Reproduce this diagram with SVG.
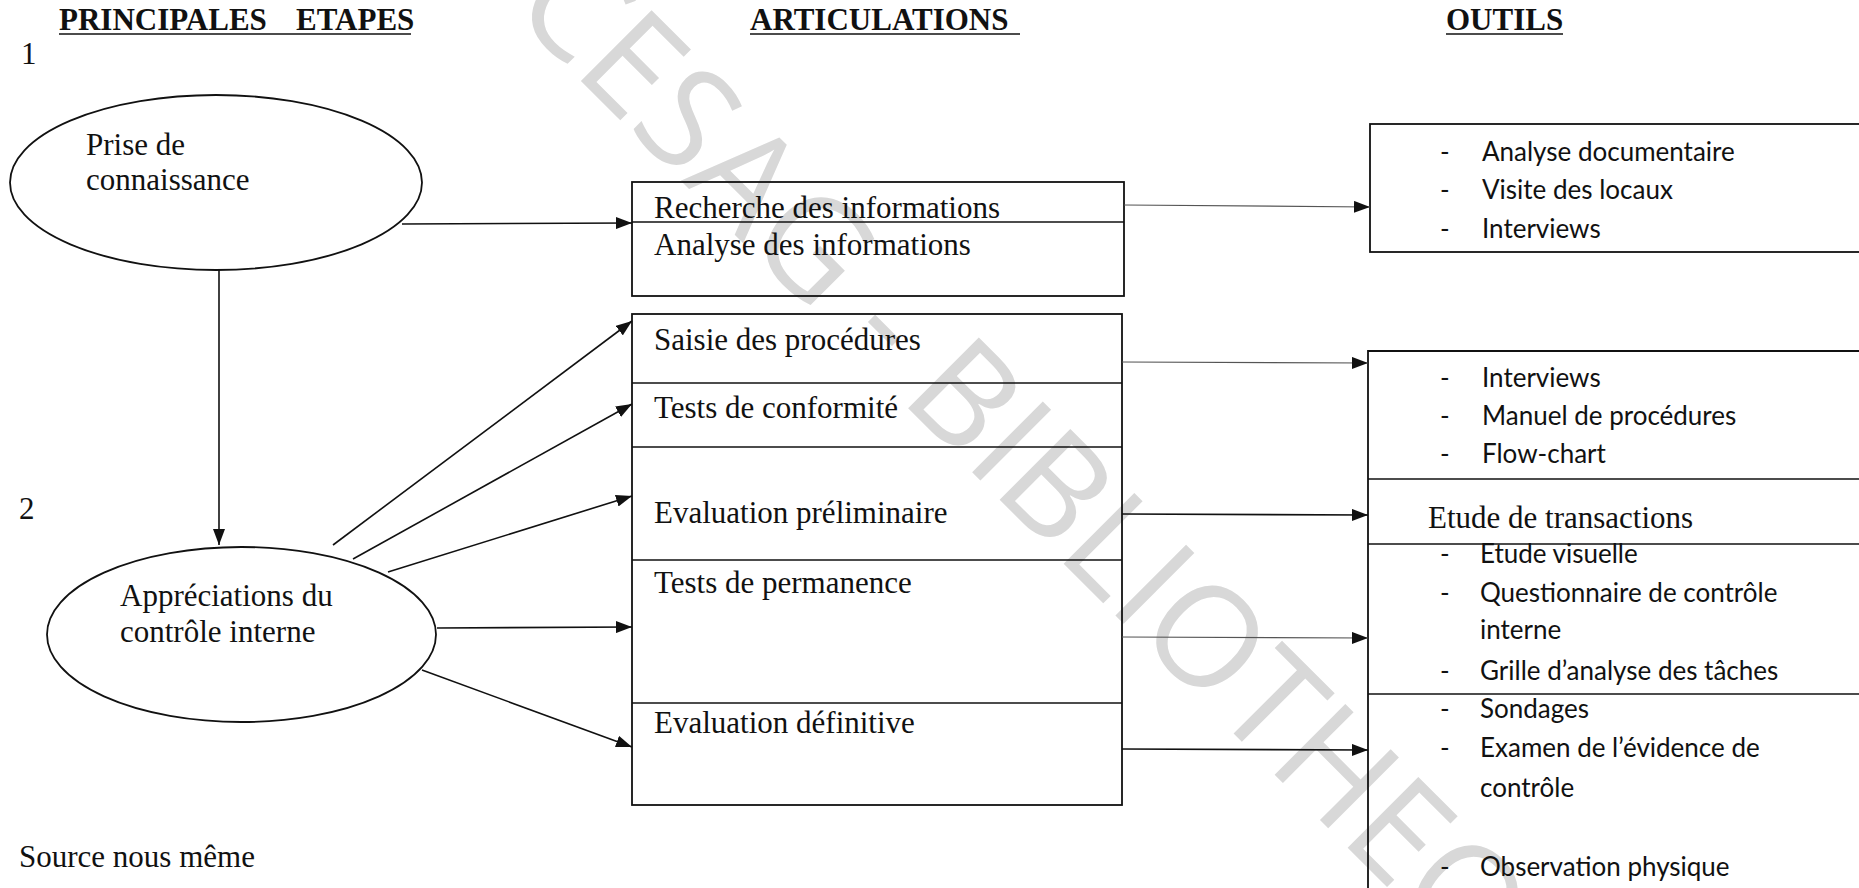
<svg xmlns="http://www.w3.org/2000/svg" width="1859" height="888" viewBox="0 0 1859 888">
  <style>
    .serif { font-family: "Liberation Serif", "Times New Roman", serif; font-size: 31px; fill: #111; }
    .head { font-family: "Liberation Serif", "Times New Roman", serif; font-size: 31px; font-weight: bold; fill: #111; }
    .cal { font-family: Lato, "Open Sans", sans-serif; font-size: 26px; fill: #111; }
    .shape { fill: none; stroke: #111; stroke-width: 1.8; }
    .rule { stroke: #111; stroke-width: 1.6; }
    .link { fill: none; stroke: #111; stroke-width: 1.6; }
    .thin { fill: none; stroke: #555; stroke-width: 1.2; }
    .wm { font-family: "Open Sans", "DejaVu Sans", sans-serif; font-size: 140px; fill: #d8d8d8; }
  </style>
  <defs>
    <marker id="arrow" viewBox="0 0 16 12" refX="16" refY="6" markerWidth="16" markerHeight="12" markerUnits="userSpaceOnUse" orient="auto">
      <path d="M0,0 L16,6 L0,12 Z" fill="#111"/>
    </marker>
  </defs>

  <rect width="1859" height="888" fill="#fff"/>

  <!-- library stamp across the sheet -->
  <g id="watermark">
    <text class="wm" transform="translate(509,9) rotate(45)">CESAG - BIBLIOTHEQUE</text>
  </g>

  <!-- column headings -->
  <g id="headings">
    <text class="head" x="59" y="30" font-size="29.5">PRINCIPALES<tspan x="296">ETAPES</tspan></text>
    <line class="rule" x1="59" y1="34" x2="411" y2="34" stroke-width="2.2"/>
    <text class="head" x="750" y="30">ARTICULATIONS</text>
    <line class="rule" x1="750" y1="34" x2="1020" y2="34" stroke-width="2.2"/>
    <text class="head" x="1446" y="30">OUTILS</text>
    <line class="rule" x1="1446" y1="34" x2="1563" y2="34" stroke-width="2.2"/>
  </g>

  <g id="step-numbers">
    <text class="serif" x="21" y="64" font-size="27">1</text>
    <text class="serif" x="19" y="519" font-size="27">2</text>
  </g>

  <!-- step 1 -->
  <g id="prise-connaissance">
    <ellipse class="shape" cx="216" cy="182.5" rx="206" ry="87.5"/>
    <text class="serif" x="86" y="155">Prise de</text>
    <text class="serif" x="86" y="190">connaissance</text>
  </g>

  <!-- step 2 -->
  <g id="appreciation-ci">
    <ellipse class="shape" cx="241.5" cy="634.5" rx="194.5" ry="87.5"/>
    <text class="serif" x="120" y="606">Appréciations du</text>
    <text class="serif" x="120" y="642">contrôle interne</text>
  </g>

  <!-- articulations: information gathering -->
  <g id="articulation-info">
    <rect class="shape" x="632" y="182" width="492" height="114"/>
    <line class="rule" x1="632" y1="222" x2="1124" y2="222"/>
    <text class="serif" x="654" y="218">Recherche des informations</text>
    <text class="serif" x="654" y="255">Analyse des informations</text>
  </g>

  <!-- articulations: internal control -->
  <g id="articulation-ci">
    <rect class="shape" x="632" y="314" width="490" height="491"/>
    <line class="rule" x1="632" y1="383" x2="1122" y2="383"/>
    <line class="rule" x1="632" y1="447" x2="1122" y2="447"/>
    <line class="rule" x1="632" y1="560" x2="1122" y2="560"/>
    <line class="rule" x1="632" y1="703" x2="1122" y2="703"/>
    <text class="serif" x="654" y="350">Saisie des procédures</text>
    <text class="serif" x="654" y="418">Tests de conformité</text>
    <text class="serif" x="654" y="523">Evaluation préliminaire</text>
    <text class="serif" x="654" y="593">Tests de permanence</text>
    <text class="serif" x="654" y="733">Evaluation définitive</text>
  </g>

  <!-- tools for step 1 -->
  <g id="outils-info">
    <rect class="shape" x="1370" y="124" width="520" height="128"/>
    <text class="cal" x="1440" y="161">-</text>
    <text class="cal" x="1482" y="161">Analyse documentaire</text>
    <text class="cal" x="1440" y="199">-</text>
    <text class="cal" x="1482" y="199">Visite des locaux</text>
    <text class="cal" x="1440" y="238">-</text>
    <text class="cal" x="1482" y="238">Interviews</text>
  </g>

  <!-- tools for step 2 -->
  <g id="outils-ci">
    <path class="shape" d="M1890,351 H1368 V900"/>
    <line class="rule" x1="1368" y1="479" x2="1890" y2="479"/>
    <line class="rule" x1="1368" y1="544" x2="1890" y2="544"/>
    <line class="rule" x1="1368" y1="694" x2="1890" y2="694"/>
    <text class="cal" x="1440" y="387">-</text>
    <text class="cal" x="1482" y="387">Interviews</text>
    <text class="cal" x="1440" y="425">-</text>
    <text class="cal" x="1482" y="425">Manuel de procédures</text>
    <text class="cal" x="1440" y="463">-</text>
    <text class="cal" x="1482" y="463">Flow-chart</text>
    <text class="serif" x="1428" y="528">Etude de transactions</text>
    <text class="cal" x="1440" y="563">-</text>
    <text class="cal" x="1480" y="563">Etude visuelle</text>
    <text class="cal" x="1440" y="602">-</text>
    <text class="cal" x="1480" y="602">Questionnaire de contrôle</text>
    <text class="cal" x="1480" y="639">interne</text>
    <text class="cal" x="1440" y="680">-</text>
    <text class="cal" x="1480" y="680">Grille d’analyse des tâches</text>
    <text class="cal" x="1440" y="718">-</text>
    <text class="cal" x="1480" y="718">Sondages</text>
    <text class="cal" x="1440" y="757">-</text>
    <text class="cal" x="1480" y="757">Examen de l’évidence de</text>
    <text class="cal" x="1480" y="797">contrôle</text>
    <text class="cal" x="1440" y="876">-</text>
    <text class="cal" x="1480" y="876">Observation physique</text>
  </g>

  <g id="source">
    <text class="serif" x="19" y="867">Source nous même</text>
  </g>

  <!-- connectors -->
  <g id="connectors">
    <line class="link" x1="402" y1="224" x2="632" y2="223" marker-end="url(#arrow)"/>
    <line class="link" x1="219" y1="270" x2="219" y2="545" marker-end="url(#arrow)"/>
    <line class="link" x1="333" y1="545" x2="632" y2="321" marker-end="url(#arrow)"/>
    <line class="link" x1="353" y1="559" x2="632" y2="404" marker-end="url(#arrow)"/>
    <line class="link" x1="388" y1="572" x2="632" y2="496" marker-end="url(#arrow)"/>
    <line class="link" x1="437" y1="628" x2="632" y2="627" marker-end="url(#arrow)"/>
    <line class="link" x1="422" y1="670" x2="632" y2="747" marker-end="url(#arrow)"/>
    <line class="thin" x1="1124" y1="205" x2="1370" y2="207" marker-end="url(#arrow)"/>
    <line class="thin" x1="1122" y1="362" x2="1368" y2="363" marker-end="url(#arrow)"/>
    <line class="link" x1="1122" y1="514" x2="1368" y2="515" marker-end="url(#arrow)"/>
    <line class="thin" x1="1122" y1="637" x2="1368" y2="638" marker-end="url(#arrow)"/>
    <line class="link" x1="1122" y1="749" x2="1368" y2="750" marker-end="url(#arrow)"/>
  </g>
</svg>
